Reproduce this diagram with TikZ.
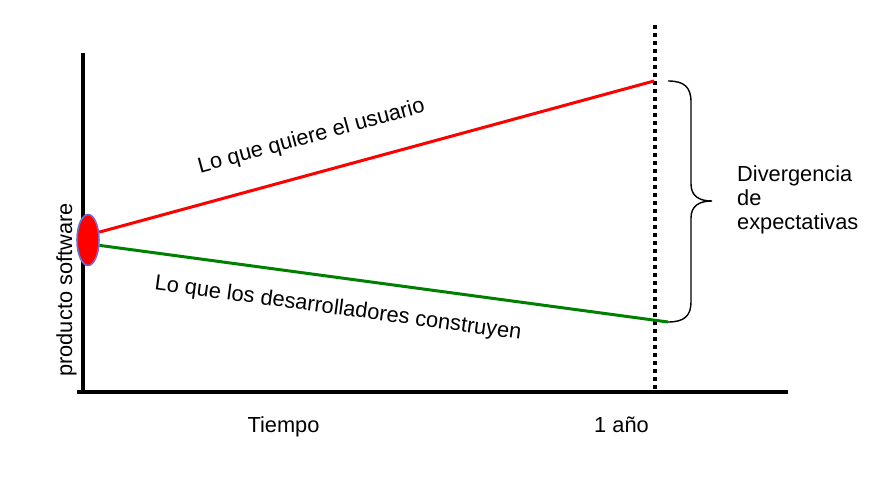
\documentclass[tikz,border=0pt]{standalone}
\usepackage{fontspec}
\setmainfont{Liberation Sans}
\usetikzlibrary{shapes.geometric}
\definecolor{lred}{RGB}{255,0,0}
\definecolor{lgreen}{RGB}{0,128,0}
\definecolor{rim}{RGB}{110,110,215}
\begin{document}
\begin{tikzpicture}[x=1pt,y=-1pt,
  axisline/.style={line width=3.5pt,black},
  trendline/.style={line width=3pt},
  lbl/.style={inner sep=0pt,font=\fontsize{21.8}{23.8}\selectfont},
  bracepath/.style={line width=1.4pt,black}]
\useasboundingbox[fill=white] (0,0) rectangle (883,478);
% axes
\coordinate (ytop) at (83,53);
\coordinate (ybot) at (83,392);
\coordinate (xleft) at (77,392);
\coordinate (xright) at (788,392);
\draw[axisline] (ytop) -- (ybot);
\draw[axisline] (xleft) -- (xright);
% dotted one-year line
\coordinate (dtop) at (655,25);
\coordinate (dbot) at (655,390);
\draw[line width=3.6pt,dash pattern=on 3.8pt off 4.2pt] (dtop) -- (dbot);
% source ellipse
\node[ellipse,draw=rim,line width=1.6pt,fill=lred,minimum width=22pt,minimum height=51pt,inner sep=0pt] (src) at (88,240) {};
\coordinate (redend) at (654,81);
\coordinate (greenend) at (668,322);
\draw[trendline,lred] (src.35) -- (redend);
\draw[trendline,lgreen] (src.-25) -- (greenend);
% brace
\coordinate (btop) at (668,81);
\coordinate (bbot) at (668,322);
\coordinate (btip) at (712,201);
\draw[bracepath] (btop) .. controls (684,81) and (691,87) .. (691,102)
  -- (691,184) .. controls (691,196) and (699,201) .. (btip)
  .. controls (699,201) and (691,206) .. (691,218)
  -- (691,302) .. controls (691,316) and (684,322) .. (bbot);
% labels
\node[lbl,rotate=15.2] (want) at (311.5,137) {Lo que quiere el usuario};
\node[lbl,rotate=-7.7] (build) at (338,309) {Lo que los desarrolladores construyen};
\node[lbl,align=left,anchor=north west] (div) at (737,166) {Divergencia\\de\\expectativas};
\node[lbl,anchor=base] (tiempo) at (283.5,432) {Tiempo};
\node[lbl,anchor=base] (anio) at (621.5,432) {1 año};
\node[lbl,rotate=90,anchor=base] (ylab) at (72,290) {producto software};
\end{tikzpicture}
\end{document}
